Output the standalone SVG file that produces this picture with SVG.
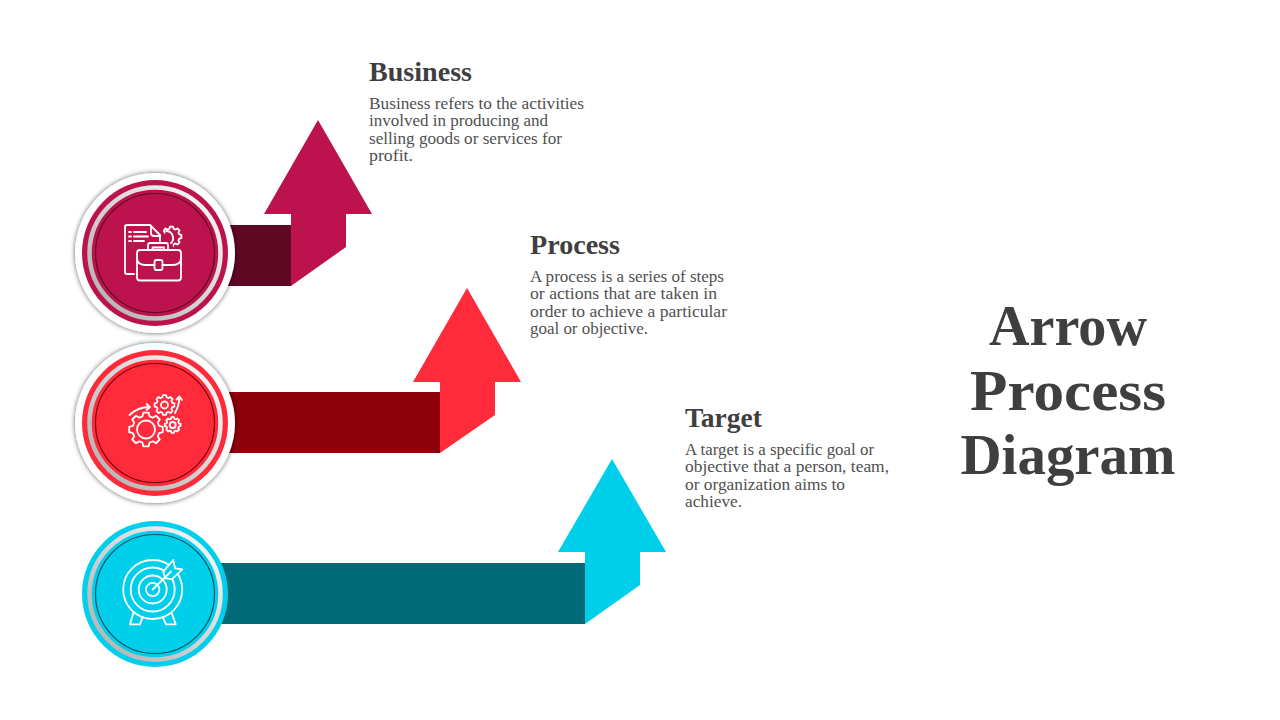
<svg xmlns="http://www.w3.org/2000/svg" width="1280" height="720" viewBox="0 0 1280 720">
<style>
.h{font-family:"Liberation Serif","DejaVu Serif",serif;font-weight:700;fill:#3f3f3f;font-size:27px}
.b{font-family:"Liberation Serif","DejaVu Serif",serif;fill:#505050;font-size:17px}
.t{font-family:"Liberation Serif","DejaVu Serif",serif;font-weight:700;fill:#3f3f3f;font-size:58px;text-anchor:middle}
.i{fill:none;stroke:#fff;stroke-width:1.8;stroke-linejoin:round;stroke-linecap:round;vector-effect:non-scaling-stroke}
.ring{fill:none;stroke:url(#gr);stroke-width:4.5}
</style>
<defs>
<filter id="sh2" x="-15%" y="-15%" width="130%" height="130%"><feDropShadow dx="0" dy="0" stdDeviation="2.500" flood-color="#000" flood-opacity=".65"/></filter>
<linearGradient id="gr" x1="0.9" y1="0.1" x2="0.1" y2="0.9"><stop offset="0" stop-color="#f4f4f4"/><stop offset="1" stop-color="#b5b5b5"/></linearGradient>
<path id="gear" class="i" d="M-2.070-7.730L-1.560-9.880L1.560-9.880L2.070-7.730L4-6.930L5.880-8.090L8.090-5.880L6.930-4L7.730-2.070L9.880-1.560L9.880 1.560L7.730 2.070L6.930 4L8.090 5.880L5.880 8.090L4 6.930L2.070 7.730L1.560 9.880L-1.560 9.880L-2.070 7.730L-4 6.930L-5.880 8.090L-8.090 5.880L-6.930 4L-7.730 2.070L-9.880 1.560L-9.880-1.560L-7.730-2.070L-6.930-4L-8.090-5.880L-5.880-8.090L-4-6.930Z"/>
<clipPath id="gc"><path d="M164 224H185V250H175L170 240L163 232Z"/></clipPath>
</defs>
<g id="connectors">
<rect x="225" y="225" width="66" height="61" fill="#5f0823"/>
<rect x="225" y="392" width="215" height="61" fill="#8e000a"/>
<rect x="215" y="563" width="370" height="61" fill="#006a78"/>
</g>
<g id="arrow-business"><path d="M318 120L372 214H346V247L291 286V214H264Z" fill="#bc134e"/></g>
<g id="arrow-process"><path d="M467 288L521 382H495V415L440 453V382H413Z" fill="#ff2a3a"/></g>
<g id="arrow-target"><path d="M612 459L666 552H640V585L585 624V552H558Z" fill="#00cfeb"/></g>
<g id="node-business">
<circle cx="155" cy="253" r="80" fill="#fff" filter="url(#sh2)"/>
<circle cx="155" cy="253" r="73" fill="#bc134e"/>
<circle cx="155" cy="253" r="65.500" class="ring"/>
<circle cx="155" cy="253" r="59.500" fill="#bc134e" stroke="#5f0823" stroke-width="1.200"/>
<path class="i" d="M134 274H127Q125 274 125 272V227Q125 225 127 225H150L160 235V241"/>
<path class="i" d="M151 226V233Q151 236 154 236H160"/>
<path class="i" d="M129 232h2M134 232h12M129 236.500h2M134 236.500h14M129 241h2M134 241h10"/>
<g clip-path="url(#gc)"><use href="#gear" transform="translate(171.500 236.500)"/></g>
<path class="i" d="M166 231a7 7 0 0 1 5 12"/>
<rect class="i" x="137" y="250" width="44" height="30.500" rx="3"/>
<path class="i" d="M137 258Q137 265 146 265H154.500M162.500 265H172Q181 265 181 258"/>
<rect class="i" x="154.500" y="260" width="8" height="10" rx="2"/>
<path class="i" d="M148 250V245Q148 243 150 243H166Q168 243 168 245V250M152.500 250V247.500H164V250"/>
</g>
<g id="node-process">
<circle cx="155" cy="423" r="80" fill="#fff" filter="url(#sh2)"/>
<circle cx="155" cy="423" r="73" fill="#ff2a3a"/>
<circle cx="155" cy="423" r="65.500" class="ring"/>
<circle cx="155" cy="423" r="59.500" fill="#ff2a3a" stroke="#7a0010" stroke-width="1.200"/>
<use href="#gear" transform="translate(146 429.500) scale(1.700)"/>
<circle class="i" cx="146" cy="429.500" r="9"/>
<use href="#gear" transform="translate(164.500 405)"/>
<circle class="i" cx="164.500" cy="405" r="3.500"/>
<use href="#gear" transform="translate(172.700 425) scale(.8)"/>
<circle class="i" cx="172.700" cy="425" r="3"/>
<path class="i" d="M129.500 415Q138 407 149.500 407M146.500 404l3.500 3-3.500 3"/>
<path class="i" d="M175 413Q179.500 405 179.300 397M176.500 399.500l3-3 2.500 3.500"/>
</g>
<g id="node-target">
<circle cx="155" cy="594" r="73" fill="#00cfeb"/>
<circle cx="155" cy="594" r="65.500" class="ring"/>
<circle cx="155" cy="594" r="59.500" fill="#00cfeb" stroke="#00505c" stroke-width="1.200"/>
<circle class="i" cx="152.700" cy="589.500" r="29.500"/>
<circle class="i" cx="152.700" cy="589.500" r="22"/>
<circle class="i" cx="152.700" cy="589.500" r="14"/>
<circle class="i" cx="152.700" cy="589.500" r="6.700"/>
<path d="M163.300 571.700L173.300 560L175 568.300L182.300 569.300L171.700 579.300L165 578Z" fill="#00cfeb"/>
<path class="i" d="M152.700 589.500L171 571.500M163.300 571.700L173.300 560L175 568.300L182.300 569.300L171.700 579.300L165 578Z"/>
<path class="i" d="M133.300 613L130 624.300H140L142.700 617M171.700 613L175.700 624.300H166L162.700 617"/>
</g>
<g id="label-business">
<text class="h" x="369" y="81" textLength="103" lengthAdjust="spacingAndGlyphs">Business</text>
<text class="b" x="369" y="109" textLength="215" lengthAdjust="spacingAndGlyphs">Business refers to the activities</text>
<text class="b" x="369" y="126" textLength="179" lengthAdjust="spacingAndGlyphs">involved in producing and</text>
<text class="b" x="369" y="144" textLength="193" lengthAdjust="spacingAndGlyphs">selling goods or services for</text>
<text class="b" x="369" y="161" textLength="44" lengthAdjust="spacingAndGlyphs">profit.</text>
</g>
<g id="label-process">
<text class="h" x="530" y="254" textLength="90" lengthAdjust="spacingAndGlyphs">Process</text>
<text class="b" x="530" y="282" textLength="194" lengthAdjust="spacingAndGlyphs">A process is a series of steps</text>
<text class="b" x="530" y="299" textLength="187" lengthAdjust="spacingAndGlyphs">or actions that are taken in</text>
<text class="b" x="530" y="317" textLength="197" lengthAdjust="spacingAndGlyphs">order to achieve a particular</text>
<text class="b" x="530" y="334" textLength="118" lengthAdjust="spacingAndGlyphs">goal or objective.</text>
</g>
<g id="label-target">
<text class="h" x="685" y="427" textLength="77" lengthAdjust="spacingAndGlyphs">Target</text>
<text class="b" x="685" y="455" textLength="189" lengthAdjust="spacingAndGlyphs">A target is a specific goal or</text>
<text class="b" x="685" y="472" textLength="204" lengthAdjust="spacingAndGlyphs">objective that a person, team,</text>
<text class="b" x="685" y="490" textLength="160" lengthAdjust="spacingAndGlyphs">or organization aims to</text>
<text class="b" x="685" y="507" textLength="57" lengthAdjust="spacingAndGlyphs">achieve.</text>
</g>
<g id="title">
<text class="t" x="1068" y="345" textLength="158" lengthAdjust="spacingAndGlyphs">Arrow</text>
<text class="t" x="1068" y="410" textLength="196" lengthAdjust="spacingAndGlyphs">Process</text>
<text class="t" x="1068" y="474" textLength="215" lengthAdjust="spacingAndGlyphs">Diagram</text>
</g>
</svg>
